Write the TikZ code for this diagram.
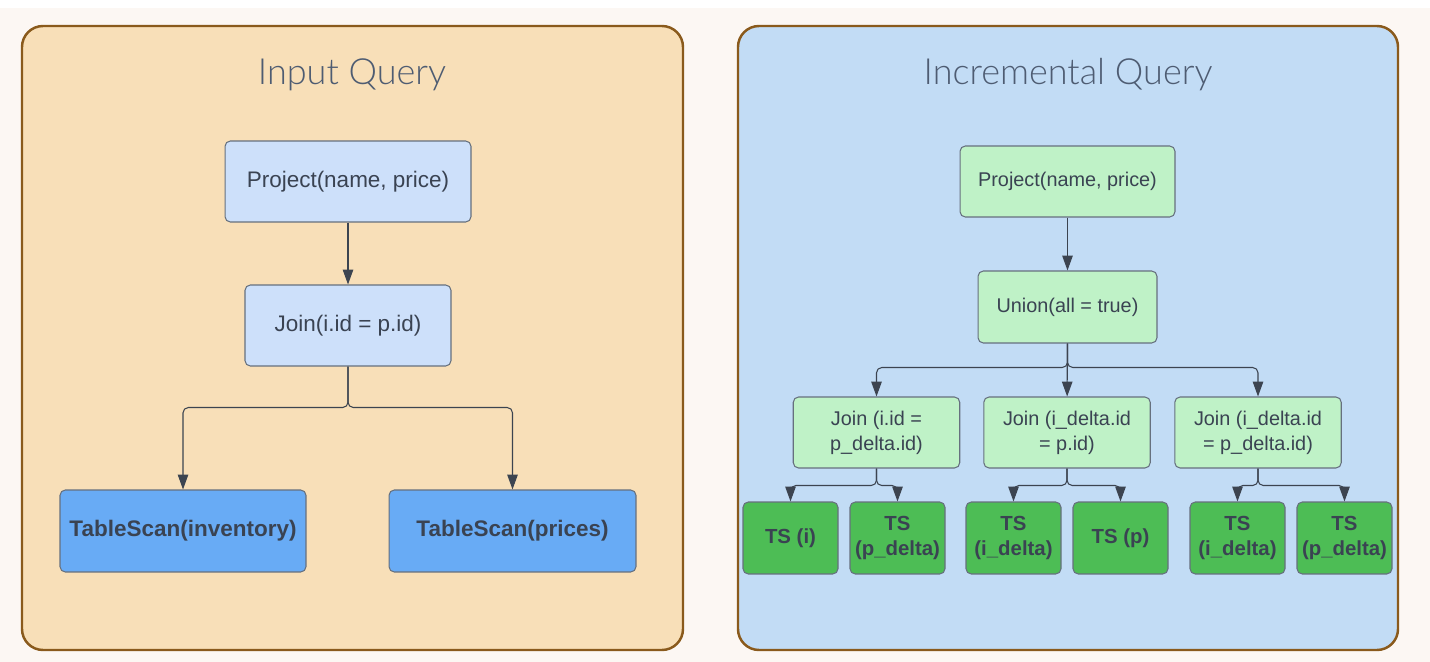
\documentclass[tikz,border=0pt]{standalone}
\usepackage{fontspec}
\setmainfont{Liberation Sans}
\newfontfamily\titlefont{Lato Light}
\usetikzlibrary{arrows.meta,positioning,calc}
\definecolor{pagebg}{HTML}{FCF7F3}
\definecolor{peach}{HTML}{F8DFB8}
\definecolor{skyblue}{HTML}{C2DCF5}
\definecolor{panelline}{HTML}{8A5A1C}
\definecolor{boxline}{HTML}{66707E}
\definecolor{optext}{HTML}{3A4352}
\definecolor{titlec}{HTML}{4E5C72}
\definecolor{lightblue}{HTML}{CDE0FA}
\definecolor{scanblue}{HTML}{68ABF5}
\definecolor{lightgreen}{HTML}{BFF2C7}
\definecolor{scangreen}{HTML}{4DBD55}
\definecolor{arrowc}{HTML}{3C4450}
\begin{document}
\begin{tikzpicture}[x=0.02cm,y=-0.02cm,
  panel/.style={draw=panelline,line width=1.4pt,rounded corners=0.42cm},
  title/.style={font=\titlefont\fontsize{20.5}{24}\selectfont,text=titlec},
  op/.style={draw=boxline,line width=0.6pt,rounded corners=3pt,inner sep=0pt,
    align=center,text=optext,font=\fontsize{12.8}{15}\selectfont},
  opsmall/.style={op,font=\fontsize{11.3}{14.2}\selectfont},
  link/.style={draw=arrowc,line width=0.6pt,rounded corners=3pt,
    -{Triangle[length=8.5pt,width=6pt]}}]
\useasboundingbox (0,0) rectangle (1430,662);
\fill[pagebg] (0,0) rectangle (1430,662);
\fill[white] (0,0) rectangle (1430,8);

% the two panels
\draw[panel,fill=peach] (22,26) rectangle (683,650);
\draw[panel,fill=skyblue] (738,26) rectangle (1398,650);
\node[title] (intitle) at (352,75) {Input Query};
\node[title] (inctitle) at (1068,75) {Incremental Query};

% input query
\node[op,fill=lightblue,minimum width=4.92cm,minimum height=1.62cm] (proj) at (348,181.5) {Project(name, price)};
\node[op,fill=lightblue,minimum width=4.12cm,minimum height=1.62cm] (join) at (348,325.5) {Join(i.id = p.id)};
\node[op,fill=scanblue,font=\bfseries\fontsize{12.8}{15}\selectfont,minimum width=4.92cm,minimum height=1.64cm] (inv) at (183,531) {TableScan(inventory)};
\node[op,fill=scanblue,font=\bfseries\fontsize{12.8}{15}\selectfont,minimum width=4.94cm,minimum height=1.64cm] (pri) at (512.5,531) {TableScan(prices)};
\draw[link] (proj) -- (join);
\draw[link] (join.south) -- ++(0,41) -| (inv.north);
\draw[link] (join.south) -- ++(0,41) -| (pri.north);

% incremental query
\node[opsmall,fill=lightgreen,minimum width=4.3cm,minimum height=1.42cm] (rproj) at (1067.5,181.5) {Project(name, price)};
\node[opsmall,fill=lightgreen,minimum width=3.58cm,minimum height=1.44cm] (union) at (1067.5,307) {Union(all = true)};
\foreach \n/\x/\txt in {j1/876.5/{Join (i.id =\\p\_delta.id)},
                        j2/1067/{Join (i\_delta.id\\= p.id)},
                        j3/1258/{Join (i\_delta.id\\= p\_delta.id)}}
  \node[opsmall,fill=lightgreen,minimum width=3.33cm,minimum height=1.42cm] (\n) at (\x,432.5) {\txt};
\foreach \n/\x/\txt in {s1/790.5/{TS (i)}, s2/897.5/{TS\\(p\_delta)},
                        s3/1013.5/{TS\\(i\_delta)}, s4/1120.5/{TS (p)},
                        s5/1237.5/{TS\\(i\_delta)}, s6/1344.5/{TS\\(p\_delta)}}
  \node[opsmall,fill=scangreen,font=\bfseries\fontsize{11.6}{14.4}\selectfont,minimum width=1.9cm,minimum height=1.44cm] (\n) at (\x,538) {\txt};
\draw[link] (rproj) -- (union);
\draw[link] (union) -- (j2);
\draw[link] (union.south) -- ++(0,24) -| (j1.north);
\draw[link] (union.south) -- ++(0,24) -| (j3.north);
\foreach \j/\a/\b in {j1/s1/s2, j2/s3/s4, j3/s5/s6} {
  \draw[link] (\j.south) -- ++(0,17) -| (\a.north);
  \draw[link] (\j.south) -- ++(0,17) -| (\b.north);
}
\end{tikzpicture}
\end{document}
